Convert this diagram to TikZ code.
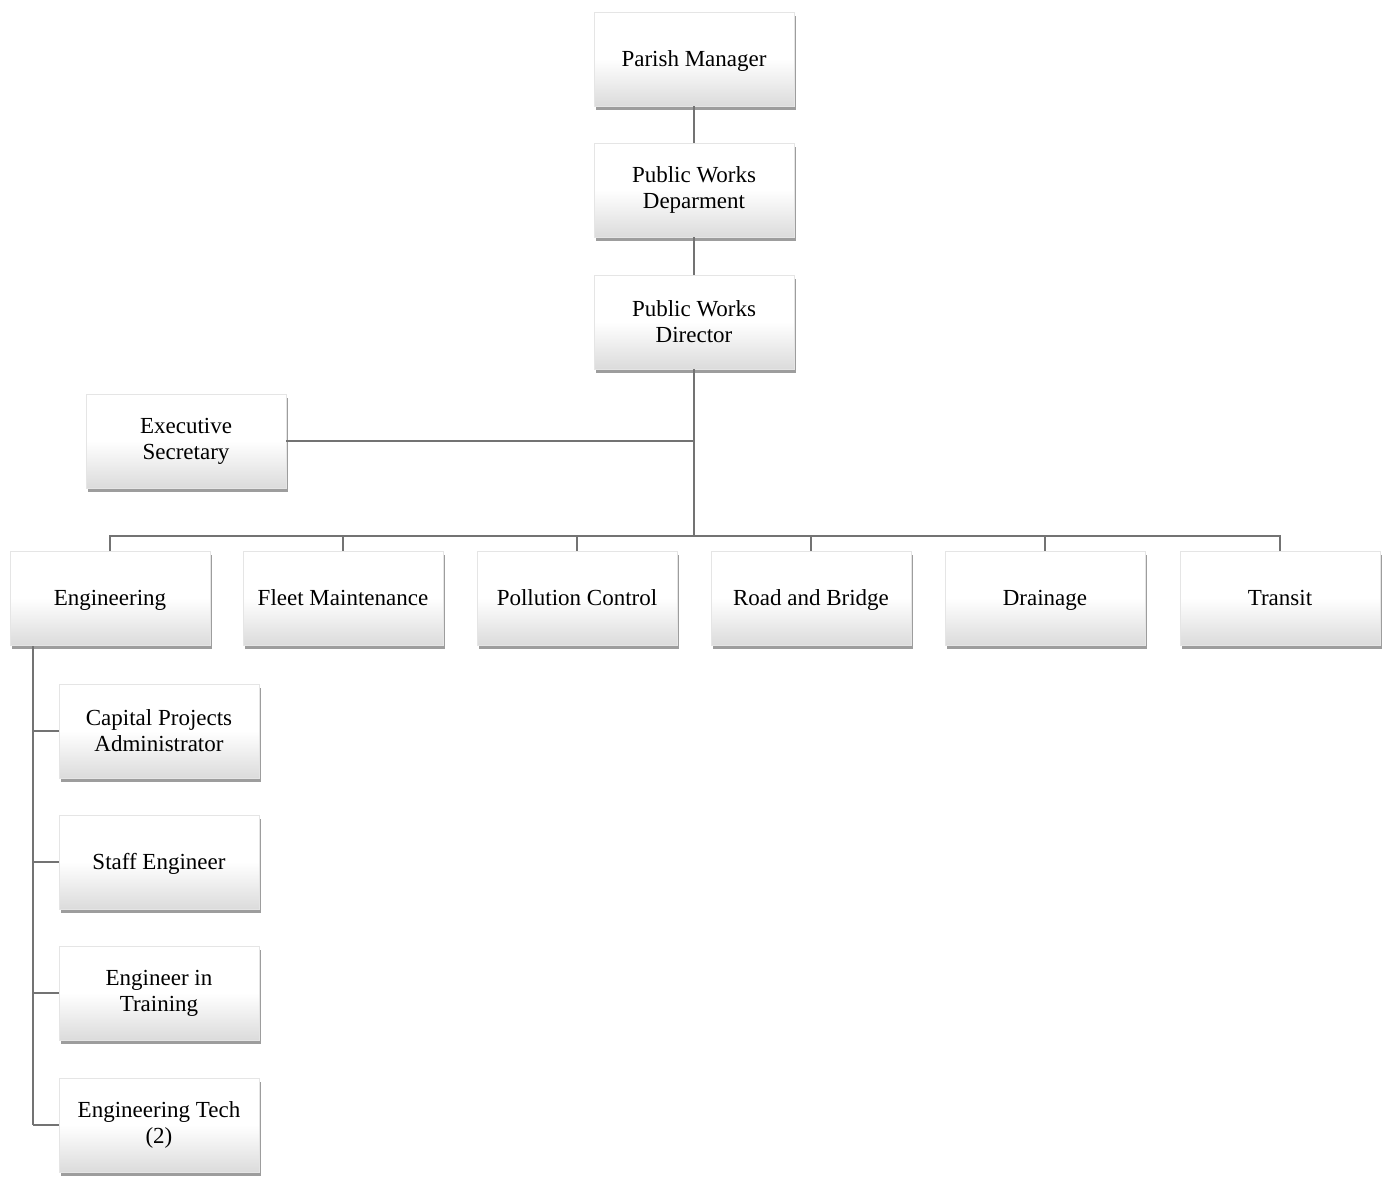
\documentclass[tikz,border=0pt]{standalone}
\usepackage{fontspec}
\setmainfont{Liberation Serif}
\usetikzlibrary{shadows}
\begin{document}
\begin{tikzpicture}[x=0.5pt,y=-0.5pt,
  orgbox/.style={draw=black!10, line width=0.3pt, minimum width=100pt, minimum height=47pt,
    inner sep=1pt, align=center, font=\fontsize{11.5}{13}\selectfont,
    top color=white, bottom color=black!14, middle color=white,
    drop shadow={shadow xshift=1pt, shadow yshift=-2pt, opacity=0.7, fill=black!55}},
  oneline/.style={orgbox, text height=2.0ex, text depth=0.45ex},
  conn/.style={draw=black!55, line width=0.75pt}]
\useasboundingbox (0,0) rectangle (1389,1178);
\node[oneline] (pm) at (694,59) {Parish Manager};
\node[orgbox] (pwd) at (694,190) {Public Works\\Deparment};
\node[orgbox] (dir) at (694,322) {Public Works\\Director};
\node[orgbox] (es) at (186,441) {Executive\\Secretary};
\node[oneline] (eng) at (110,598) {Engineering};
\node[oneline] (fm) at (343,598) {Fleet Maintenance};
\node[oneline] (pc) at (577,598) {Pollution Control};
\node[oneline] (rb) at (811,598) {Road and Bridge};
\node[oneline] (dr) at (1045,598) {Drainage};
\node[oneline] (tr) at (1280,598) {Transit};
\node[orgbox] (cpa) at (159,731) {Capital Projects\\Administrator};
\node[oneline] (se) at (159,862) {Staff Engineer};
\node[orgbox] (eit) at (159,993) {Engineer in\\Training};
\node[orgbox] (et) at (159,1125) {Engineering Tech\\(2)};
\coordinate (bus) at (694,536);
\coordinate (engx) at (33,646);
\draw[conn] (pm.south) -- (pwd.north);
\draw[conn] (pwd.south) -- (dir.north);
\draw[conn] (dir.south) -- (bus);
\draw[conn] (es.east) -- (es.east -| dir.south);
\foreach \n in {eng,fm,pc,rb,dr,tr}{
  \draw[conn] (bus) -- (bus -| \n.north) -- (\n.north);
}
\draw[conn] (engx) -- (engx |- et.west);
\foreach \n in {cpa,se,eit,et}{
  \draw[conn] (engx |- \n.west) -- (\n.west);
}
\end{tikzpicture}
\end{document}
